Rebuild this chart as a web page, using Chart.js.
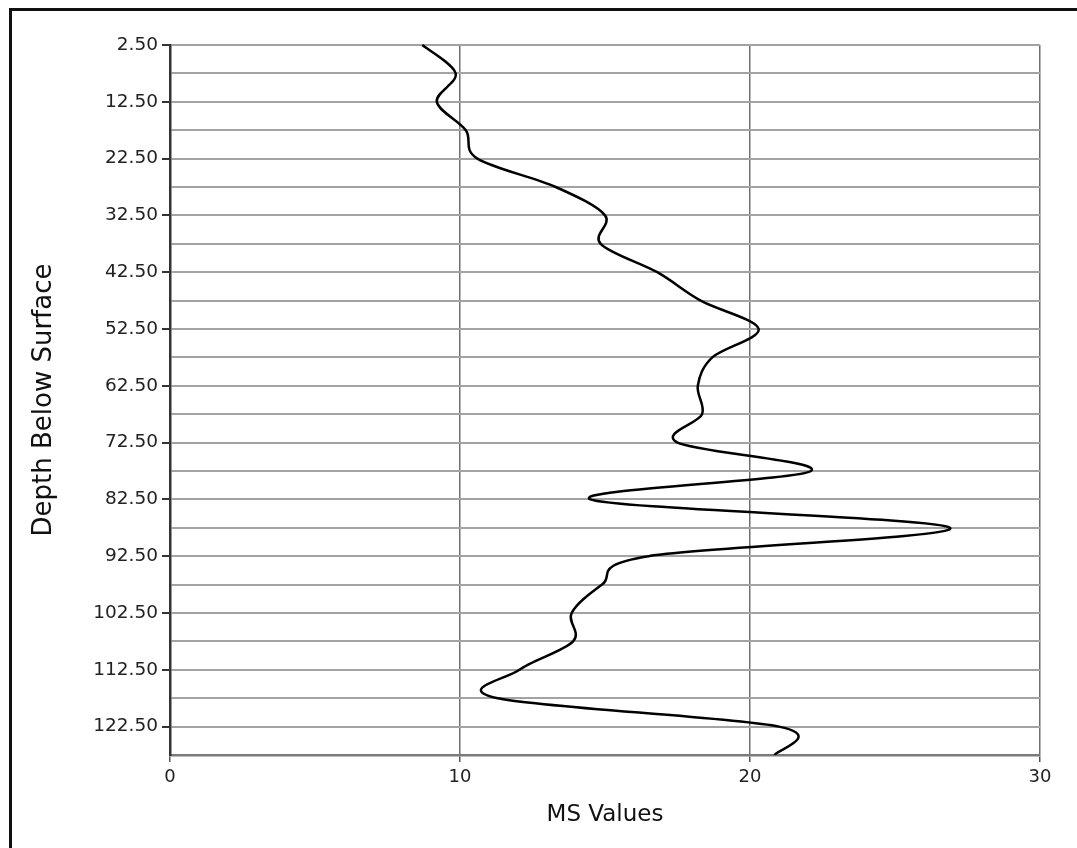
<!DOCTYPE html>
<html>
<head>
<meta charset="utf-8">
<script src="https://cdn.jsdelivr.net/npm/chart.js@4.4.1/dist/chart.umd.min.js"></script>
<style>
  html, body { margin: 0; padding: 0; background: #ffffff; width: 1077px; height: 848px; overflow: hidden; }
  #frame { position: absolute; left: 9px; top: 8px; width: 1120px; height: 900px; border: 3px solid #111111; box-sizing: border-box; }
  #c { position: absolute; left: 0; top: 0; }
</style>
</head>
<body>
<div id="frame"></div>
<canvas id="c" width="1077" height="848"></canvas>
<script>
// ---- data ----
const depths = [2.5, 7.5, 12.5, 17.5, 22.5, 27.5, 32.5, 37.5, 42.5, 47.5, 52.5, 57.5, 62.5,
                67.5, 72.5, 77.5, 82.5, 87.5, 92.5, 97.5, 102.5, 107.5, 112.5, 117.5, 122.5, 127.5];
const msValues = [8.7, 9.85, 9.2, 10.2, 10.6, 13.3, 15.0, 14.85, 16.8, 18.3, 20.3, 18.7, 18.2,
                  18.35, 17.5, 22.1, 14.5, 26.9, 16.5, 14.9, 13.85, 13.9, 12.05, 11.3, 21.0, 20.85];
const depthLabels = ['2.50', '12.50', '22.50', '32.50', '42.50', '52.50', '62.50',
                     '72.50', '82.50', '92.50', '102.50', '112.50', '122.50'];
const msTicks = [0, 10, 20, 30];
const xTitle = 'MS Values';
const yTitle = 'Depth Below Surface';

// Spreadsheet-style smoothed line: control points from neighbouring points (Catmull-Rom)
const smoothLine = {
  id: 'smoothLine',
  beforeDatasetDraw(chart, args) {
    const meta = args.meta;
    const pts = meta.data;
    const n = pts.length;
    for (let i = 0; i < n; i++) {
      const p = pts[i];
      const a = pts[Math.max(0, i - 1)];
      const b = pts[Math.min(n - 1, i + 1)];
      const tx = (b.x - a.x) / 6, ty = (b.y - a.y) / 6;
      p.cp1x = p.x - tx; p.cp1y = p.y - ty;
      p.cp2x = p.x + tx; p.cp2y = p.y + ty;
    }
    if (meta.dataset) {
      meta.dataset._pointsUpdated = true;
      meta.dataset._path = undefined;
    }
  }
};

const fontFamily = '"DejaVu Sans", Verdana, sans-serif';

new Chart(document.getElementById('c'), {
  type: 'line',
  data: {
    datasets: [{
      data: depths.map((d, i) => ({ x: msValues[i], y: d })),
      borderColor: '#000000',
      borderWidth: 2.5,
      pointRadius: 0,
      pointHoverRadius: 0,
      fill: false,
      tension: 0.4,
      clip: 6
    }]
  },
  options: {
    responsive: false,
    devicePixelRatio: 1,
    animation: false,
    events: [],
    layout: { padding: { left: 26, right: 37, top: 45, bottom: 15 } },
    plugins: { legend: { display: false }, tooltip: { enabled: false }, title: { display: false } },
    scales: {
      x: {
        type: 'linear',
        position: 'bottom',
        min: msTicks[0],
        max: msTicks[msTicks.length - 1],
        afterBuildTicks: (scale) => { scale.ticks = msTicks.map(v => ({ value: v })); },
        afterFit: (scale) => { scale.height = 78; },
        border: { display: true, color: '#7a7a7a', width: 2.5 },
        grid: {
          color: (ctx) => ctx.tick && ctx.tick.value === 0 ? 'rgba(0,0,0,0)' : '#6e6e6e',
          lineWidth: 1.5,
          tickColor: '#555555',
          tickLength: 7,
          drawTicks: true
        },
        ticks: {
          padding: 5,
          color: '#222222',
          font: { family: fontFamily, size: 18 },
          maxRotation: 0,
          autoSkip: false,
          callback: (v) => String(v)
        },
        title: {
          display: true,
          text: xTitle,
          color: '#111111',
          font: { family: fontFamily, size: 23 },
          padding: { top: 4, bottom: 4 }
        }
      },
      y: {
        type: 'linear',
        reverse: true,
        min: depths[0],
        max: depths[depths.length - 1],
        afterBuildTicks: (scale) => { scale.ticks = depths.map(v => ({ value: v })); },
        afterFit: (scale) => { scale.width = 144; },
        border: { display: true, color: '#333333', width: 2.5 },
        grid: {
          color: '#a3a3a3',
          lineWidth: 2,
          tickColor: (ctx) => (ctx.tick && depthLabels.includes(ctx.tick.value.toFixed(2))) ? '#333333' : 'rgba(0,0,0,0)',
          tickLength: 8,
          drawTicks: true
        },
        ticks: {
          padding: 4,
          color: '#222222',
          font: { family: fontFamily, size: 18.5 },
          autoSkip: false,
          callback: (v) => depthLabels.includes(Number(v).toFixed(2)) ? Number(v).toFixed(2) : ''
        },
        title: {
          display: true,
          text: yTitle,
          color: '#111111',
          font: { family: fontFamily, size: 26 },
          padding: { top: 3, bottom: 3 }
        }
      }
    }
  },
  plugins: [smoothLine]
});
</script>
</body>
</html>
